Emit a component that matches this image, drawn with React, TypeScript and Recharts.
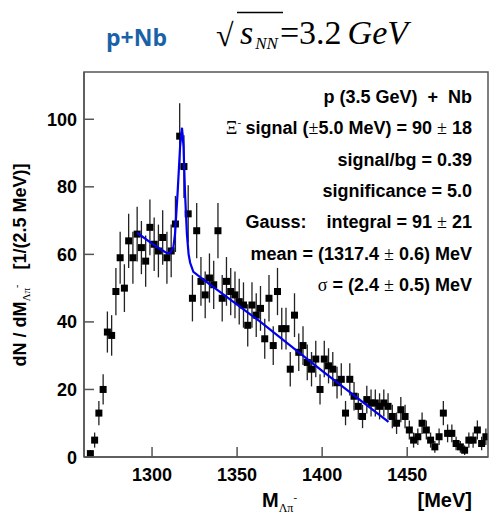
import React from "react";
import { ScatterChart, Scatter, XAxis, YAxis, ErrorBar } from "recharts";

// histogram bin centres (2.5 MeV bins) and counts
const massBins = [
  1263.75, 1266.25, 1268.75, 1271.25, 1273.75, 1276.25, 1278.75, 1281.25, 1283.75, 1286.25,
  1288.75, 1291.25, 1293.75, 1296.25, 1298.75, 1301.25, 1303.75, 1306.25, 1308.75, 1311.25,
  1313.75, 1316.25, 1318.75, 1321.25, 1323.75, 1326.25, 1328.75, 1331.25, 1333.75, 1336.25,
  1338.75, 1341.25, 1343.75, 1346.25, 1348.75, 1351.25, 1353.75, 1356.25, 1358.75, 1361.25,
  1363.75, 1366.25, 1368.75, 1371.25, 1373.75, 1376.25, 1378.75, 1381.25, 1383.75, 1386.25,
  1388.75, 1391.25, 1393.75, 1396.25, 1398.75, 1401.25, 1403.75, 1406.25, 1408.75, 1411.25,
  1413.75, 1416.25, 1418.75, 1421.25, 1423.75, 1426.25, 1428.75, 1431.25, 1433.75, 1436.25,
  1438.75, 1441.25, 1443.75, 1446.25, 1448.75, 1451.25, 1453.75, 1456.25, 1458.75, 1461.25,
  1463.75, 1466.25, 1468.75, 1471.25, 1473.75, 1476.25, 1478.75, 1481.25, 1483.75, 1486.25,
  1488.75, 1491.25, 1493.75, 1496.25,
];
const counts = [
  1, 5, 13, 20, 37, 36, 49, 59, 50, 64,
  59, 66, 62, 58, 68, 63, 61, 65, 59, 61,
  69, 95, 86, 72, 47, 67, 52, 48, 53, 51,
  67, 47, 52, 49, 48, 46, 45, 39, 45, 42,
  44, 35, 47, 33, 49, 38, 38, 26, 42, 31,
  33, 28, 26, 29, 20, 29, 27, 26, 22, 23,
  13, 23, 18, 15, 12, 17, 16, 16, 15, 16,
  15, 12, 10, 14, 12, 8, 5, 6, 10, 8,
  5, 3, 6, 13, 7, 7, 4, 3, 2, 5,
  5, 8, 4, 6,
];

// fit curve (gauss + linear background), read at a few nodes
const fitMass = [1291.2, 1300, 1306, 1309, 1310.6, 1312.5, 1313.5, 1315, 1316.5, 1317.6, 1318.5, 1319.4, 1320.5, 1321.5, 1322.4, 1324.3, 1330, 1363, 1400, 1439];
const fitValue = [66.4, 63.2, 61.2, 60.3, 60.5, 62, 66, 78, 92, 97.5, 92, 78, 66, 60, 57.5, 54.8, 52.6, 40.3, 25.5, 10.4];

const xTicks = [1300, 1350, 1400, 1450];
const yTicks = [0, 20, 40, 60, 80, 100];

const legendLines: Array<Array<[string, boolean]>> = [
  [["p (3.5 GeV)  +  Nb", false]],
  [["Ξ", true], ["- ", true], ["signal (", false], ["±", true], ["5.0 MeV) = 90 ", false], ["±", true], [" 18", false]],
  [["signal/bg = 0.39", false]],
  [["significance = 5.0", false]],
  [["Gauss:    integral = 91 ", false], ["±", true], [" 21", false]],
  [["mean = (1317.4 ", false], ["±", true], [" 0.6) MeV", false]],
  [["σ", true], [" = (2.4 ", false], ["±", true], [" 0.5) MeV", false]],
];

const W = 489;
const H = 516;
const margin = { top: 72, right: 1, bottom: 0, left: 0 };
const yAxisW = 84;
const xAxisH = 59;
const sans = "'Liberation Sans', Arial, sans-serif";
const serif = "'Liberation Serif', 'Times New Roman', serif";
const axisColor = "#555";

const points = massBins.map((m, i) => ({ m, n: counts[i], err: Math.sqrt(counts[i]) }));
const fit = fitMass.map((m, i) => ({ m, n: fitValue[i] }));

function XTick(props: any) {
  const { x, y, payload } = props;
  return (
    <g>
      <line x1={x} x2={x} y1={y} y2={y - 10} stroke={axisColor} strokeWidth={1.5} />
      <text x={x} y={y + 24} textAnchor="middle" fontFamily={sans} fontWeight="bold" fontSize={18} fill="#000">
        {payload.value}
      </text>
    </g>
  );
}

function YTick(props: any) {
  const { x, y, payload } = props;
  return (
    <g>
      <line x1={x} x2={x + 10} y1={y} y2={y} stroke={axisColor} strokeWidth={1.5} />
      <text x={x - 7} y={y + 6.5} textAnchor="end" fontFamily={sans} fontWeight="bold" fontSize={18} fill="#000">
        {payload.value}
      </text>
    </g>
  );
}

const Square = (props: any) => <rect x={props.cx - 3.5} y={props.cy - 3.5} width={7} height={7} fill="#000" />;

export default function App() {
  const plotL = margin.left + yAxisW;
  const plotW = W - plotL - margin.right;
  const plotH = H - margin.top - xAxisH;
  return (
    <div style={{ position: "absolute", left: 0, top: 0, width: W, height: H, background: "#fff" }}>
      <ScatterChart width={W} height={H} margin={margin}>
        <XAxis
          type="number"
          dataKey="m"
          domain={[1260, 1497.5]}
          ticks={xTicks}
          interval={0}
          allowDataOverflow
          height={xAxisH}
          tickSize={0}
          tickMargin={0}
          tickLine={false}
          axisLine={{ stroke: axisColor, strokeWidth: 1.5 }}
          tick={(p: any) => <XTick {...p} />}
        />
        <YAxis
          type="number"
          dataKey="n"
          domain={[0, 114]}
          ticks={yTicks}
          interval={0}
          allowDataOverflow
          width={yAxisW}
          tickSize={0}
          tickMargin={0}
          tickLine={false}
          axisLine={{ stroke: axisColor, strokeWidth: 1.5 }}
          tick={(p: any) => <YTick {...p} />}
        />
        <Scatter data={points} shape={<Square />} isAnimationActive={false}>
          <ErrorBar dataKey="err" direction="y" width={0} stroke="#222" strokeWidth={1.3} />
        </Scatter>
        <Scatter
          data={fit}
          line={{ stroke: "#0000ee", strokeWidth: 2.2 }}
          lineType="joint"
          shape={() => <g />}
          isAnimationActive={false}
        />
      </ScatterChart>

      <svg width={W} height={H} style={{ position: "absolute", left: 0, top: 0, pointerEvents: "none" }}>
        <rect x={plotL} y={margin.top} width={plotW} height={plotH} fill="none" stroke={axisColor} strokeWidth={1.5} />

        {/* title */}
        <text x={106} y={46} fontFamily="'Open Sans', sans-serif" fontWeight="bold" fontSize={23} fill="#1a62a8">
          p+Nb
        </text>
        <text x={216} y={46} fontFamily={serif} fontSize={32} fill="#000">
          √
        </text>
        <line x1={237} x2={283} y1={12.5} y2={12.5} stroke="#000" strokeWidth={1.4} />
        <text x={240} y={44} fontFamily={serif} fontSize={34} fill="#000">
          <tspan fontStyle="italic">s</tspan>
          <tspan fontStyle="italic" fontSize={17} dy={5} dx={2}>NN</tspan>
          <tspan dy={-5} dx={2}>=3.2</tspan>
          <tspan fontStyle="italic" dx={6}>GeV</tspan>
        </text>

        {/* fit results */}
        {legendLines.map((parts, i) => (
          <text
            key={i}
            x={472}
            y={103 + i * 31.3}
            textAnchor="end"
            fontFamily={sans}
            fontWeight="bold"
            fontSize={18}
            fill="#000"
            style={{ whiteSpace: "pre" }}
          >
            {parts.map(([s, sym], j) =>
              sym ? (
                s.startsWith("-") ? (
                  <tspan key={j} fontFamily={serif} fontWeight="normal" fontSize={11} dy={-8}>
                    {"-"}
                    <tspan dy={8} fontSize={18}>{" "}</tspan>
                  </tspan>
                ) : (
                  <tspan key={j} fontFamily={serif} fontWeight="normal">{s}</tspan>
                )
              ) : (
                <tspan key={j}>{s}</tspan>
              )
            )}
          </text>
        ))}

        {/* y axis title */}
        <text
          transform="translate(26,265) rotate(-90)"
          textAnchor="middle"
          fontFamily={sans}
          fontWeight="bold"
          fontSize={18}
          fill="#000"
          style={{ whiteSpace: "pre" }}
        >
          <tspan>dN / dM</tspan>
          <tspan fontFamily={serif} fontWeight="normal" fontSize={11} dy={4}>Λπ</tspan>
          <tspan fontFamily={serif} fontWeight="normal" fontSize={10} dy={-10}>-</tspan>
          <tspan dy={6}>{"   [1/(2.5 MeV)]"}</tspan>
        </text>

        {/* x axis title */}
        <text x={262} y={507} fontFamily={sans} fontWeight="bold" fontSize={20} fill="#000">
          <tspan>M</tspan>
          <tspan fontFamily={serif} fontWeight="normal" fontSize={12} dy={5}>Λπ</tspan>
          <tspan fontFamily={serif} fontWeight="normal" fontSize={11} dy={-11}>-</tspan>
        </text>
        <text x={472} y={507} textAnchor="end" fontFamily={sans} fontWeight="bold" fontSize={20} fill="#000">
          [MeV]
        </text>
      </svg>
    </div>
  );
}
